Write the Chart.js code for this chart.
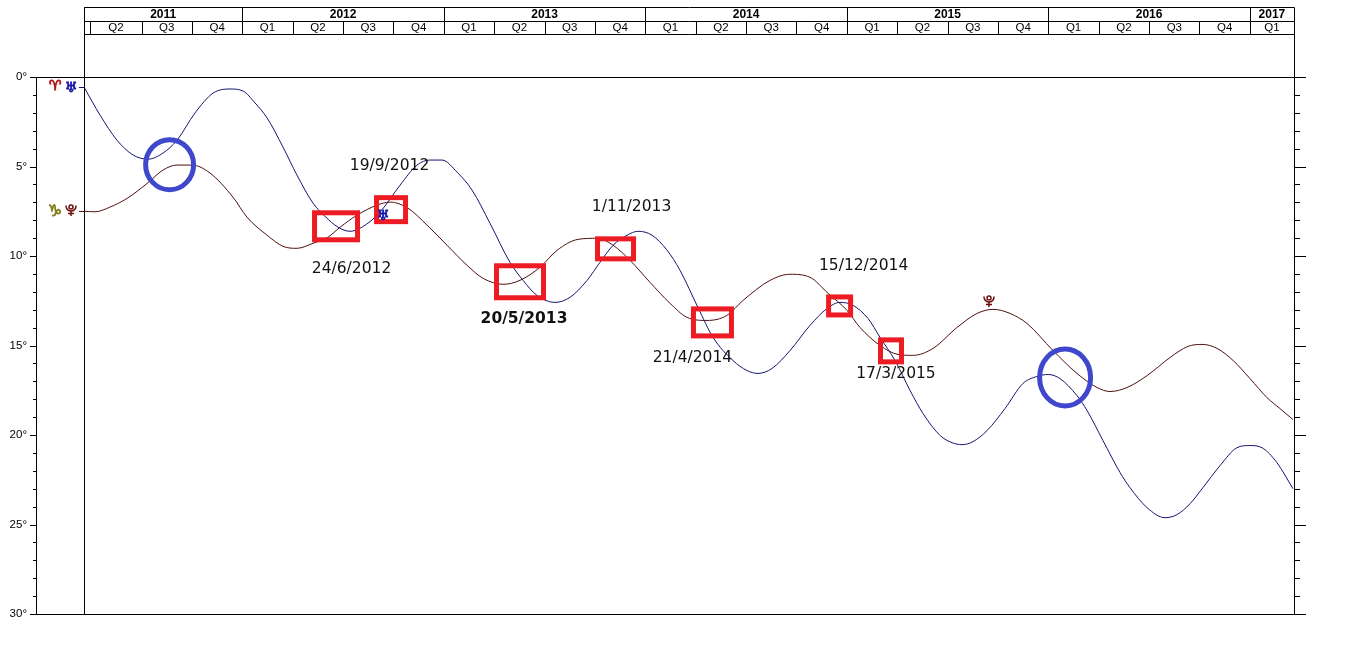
<!DOCTYPE html>
<html>
<head>
<meta charset="utf-8">
<title>Uranus Pluto</title>
<script src="https://cdn.jsdelivr.net/npm/chart.js@4"></script>
<style>
    html, body { margin: 0; padding: 0; background: #fff; overflow: hidden; }
    #wrap { position: relative; width: 1351px; height: 656px; }
</style>
</head>
<body>
<div id="wrap"><canvas id="ephemeris"></canvas></div>
<script>
// Series: date as decimal year, position in degrees
const uranusYears = [2011.214,2011.294,2011.378,2011.458,2011.532,2011.606,2011.676,2011.765,2011.855,2011.939,2012.003,2012.063,2012.123,2012.202,2012.271,2012.351,2012.41,2012.475,2012.534,2012.594,2012.683,2012.783,2012.867,2012.931,2012.991,2013.066,2013.14,2013.229,2013.328,2013.393,2013.462,2013.552,2013.626,2013.711,2013.775,2013.84,2013.909,2013.964,2014.033,2014.108,2014.172,2014.261,2014.336,2014.435,2014.505,2014.559,2014.629,2014.718,2014.817,2014.902,2014.966,2015.031,2015.105,2015.165,2015.239,2015.314,2015.378,2015.463,2015.522,2015.572,2015.626,2015.696,2015.785,2015.874,2015.944,2015.999,2016.058,2016.142,2016.192,2016.271,2016.356,2016.405,2016.49,2016.579,2016.638,2016.703,2016.767,2016.852,2016.936,2017,2017.06,2017.134,2017.214];
const uranusDegrees = [0.56,2.13,3.53,4.36,4.59,4.25,3.53,2.01,0.9,0.67,0.78,1.45,2.29,3.92,5.48,7.05,7.78,8.39,8.62,8.39,7.55,6.04,4.92,4.64,4.64,5.32,6.32,8.17,10.35,11.36,12.2,12.59,12.31,11.36,10.35,9.4,8.84,8.62,8.84,9.68,10.8,12.87,14.55,15.84,16.4,16.56,16.28,15.28,13.88,12.93,12.59,12.76,13.49,14.55,15.84,17.52,18.8,20.03,20.43,20.54,20.37,19.75,18.52,17.12,16.73,16.62,16.85,17.8,18.63,20.31,22.1,22.94,24.06,24.62,24.45,23.84,22.94,21.71,20.71,20.59,20.71,21.54,23];
const plutoYears = [2011.214,2011.269,2011.343,2011.428,2011.527,2011.606,2011.676,2011.75,2011.84,2011.954,2012.023,2012.123,2012.202,2012.271,2012.351,2012.425,2012.485,2012.569,2012.668,2012.733,2012.822,2012.917,2013.016,2013.115,2013.195,2013.294,2013.378,2013.477,2013.562,2013.666,2013.76,2013.84,2013.924,2014.023,2014.123,2014.207,2014.306,2014.405,2014.485,2014.619,2014.718,2014.817,2014.907,2015.001,2015.065,2015.165,2015.254,2015.329,2015.428,2015.547,2015.646,2015.726,2015.81,2015.894,2016.023,2016.142,2016.242,2016.306,2016.39,2016.49,2016.604,2016.693,2016.763,2016.837,2016.917,2017,2017.085,2017.149,2017.214];
const plutoDegrees = [7.5,7.53,7.27,6.78,5.95,5.2,4.92,4.92,5.37,6.72,7.83,8.84,9.46,9.57,9.29,8.95,8.39,7.72,7.16,6.99,7.33,8.28,9.4,10.52,11.25,11.58,11.36,10.63,9.68,9.07,9.01,9.4,10.24,11.47,12.65,13.43,13.6,13.32,12.48,11.36,11.02,11.19,12.09,13.04,13.99,15,15.5,15.55,15.16,13.99,13.21,12.98,13.21,13.77,15.28,16.56,17.35,17.57,17.35,16.68,15.67,15.05,14.94,15.16,15.84,16.84,17.91,18.52,19.14];

// Header rows
const yearLabels = ["2011","2012","2013","2014","2015","2016","2017"];
const yearStarts = [2011.214,2012,2013,2014,2015,2016,2017];
const quarterLabels = ["","Q2","Q3","Q4","Q1","Q2","Q3","Q4","Q1","Q2","Q3","Q4","Q1","Q2","Q3","Q4","Q1","Q2","Q3","Q4","Q1","Q2","Q3","Q4","Q1"];
const quarterStarts = [2011.214,2011.246,2011.5,2011.75,2012,2012.25,2012.5,2012.75,2013,2013.25,2013.5,2013.75,2014,2014.25,2014.5,2014.75,2015,2015.25,2015.5,2015.75,2016,2016.25,2016.5,2016.75,2017];
const chartEnd = 2017.219;

// Crossings and the two near misses circled in the picture
const crossingDates = ["24/6/2012","19/9/2012","20/5/2013","1/11/2013","21/4/2014","15/12/2014","17/3/2015"];
const crossingYears = [2012.465,2012.738,2013.378,2013.852,2014.333,2014.964,2015.219];
const crossingDegrees = [8.34,7.41,11.44,9.60,13.71,12.79,15.30];
const circleYears = [2011.639,2016.083];
const circleDegrees = [4.90,16.79];

// Drawing sizes, pixels: box half width, half height, date label offset
const boxSizes = [[21.5,13.5,15.5,43],[14.5,12,-1.5,-43.5],[23.5,16,4,37.5],[18,10,16,-41.5],[19,13.5,-20,36],[11,9,24,-39.5],[10.5,11,5,23.5]];
const circleSizes = [[24,25],[25.5,28.5]];
const boldDate = "20/5/2013";

function points(xs, ys) {
    return xs.map((x, i) => ({ x: x, y: ys[i] }));
}

// Everything the axes cannot do themselves: header table, frame, ticks, symbols, annotations
const decorations = {
    id: 'decorations',
    afterDatasetsDraw(chart) {
        const ctx = chart.ctx;
        const x = chart.scales.x;
        const y = chart.scales.y;
        const area = chart.chartArea;
        const snap = v => Math.round(v) + 0.5;
        const startX = snap(x.getPixelForValue(yearStarts[0]));
        const endX = snap(area.right);
        const topY = snap(area.top);
        const botY = snap(area.bottom);

        function line(x1, y1, x2, y2) {
            ctx.beginPath();
            ctx.moveTo(x1, y1);
            ctx.lineTo(x2, y2);
            ctx.stroke();
        }

        // sign or planet symbol as font glyph, stroked a little to get the heavier look
        function glyph(ch, px, py, size, color) {
            ctx.font = size + 'px "DejaVu Sans"';
            ctx.fillStyle = color;
            ctx.strokeStyle = color;
            ctx.lineWidth = 0.8;
            ctx.fillText(ch, px, py);
            ctx.strokeText(ch, px, py);
        }

        // the Pluto symbol used here is the orb and cup one, not in the installed fonts
        function plutoMark(px, py) {
            ctx.strokeStyle = '#6e0f0f';
            ctx.lineWidth = 1.5;
            ctx.beginPath();
            ctx.arc(px, py - 3, 2, 0, Math.PI * 2);
            ctx.stroke();
            ctx.beginPath();
            ctx.arc(px, py - 4, 5, -0.1, Math.PI + 0.1);
            ctx.stroke();
            line(px, py + 1, px, py + 6);
            line(px - 3, py + 3.5, px + 3, py + 3.5);
        }

        ctx.save();
        ctx.strokeStyle = '#000';
        ctx.lineWidth = 1;

        // frame
        line(30, topY, 1306, topY);
        line(30, botY, 1306, botY);
        line(startX, 7.5, startX, botY);
        line(endX, 7.5, endX, botY);
        line(startX, 7.5, endX, 7.5);
        line(startX, 21.5, endX, 21.5);
        line(startX, 34.5, endX, 34.5);

        // degree ticks on both sides
        y.ticks.forEach(t => {
            const py = snap(y.getPixelForValue(t.value));
            const major = t.value % 5 === 0;
            line(major ? 30 : 33, py, area.left, py);
            line(endX, py, major ? 1306 : 1300, py);
        });

        // year row
        ctx.fillStyle = '#000';
        ctx.textAlign = 'center';
        ctx.textBaseline = 'middle';
        ctx.font = 'bold 12px "Liberation Sans"';
        yearLabels.forEach((label, i) => {
            const left = x.getPixelForValue(yearStarts[i]);
            const right = i + 1 < yearStarts.length ? x.getPixelForValue(yearStarts[i + 1]) : area.right;
            line(snap(left), 7.5, snap(left), 21.5);
            ctx.fillText(label, (left + right) / 2, 14.5);
        });

        // quarter row
        ctx.font = '11.5px "Liberation Sans"';
        quarterStarts.forEach((start, i) => {
            const left = x.getPixelForValue(start);
            const right = i + 1 < quarterStarts.length ? x.getPixelForValue(quarterStarts[i + 1]) : area.right;
            line(snap(left), 21.5, snap(left), 34.5);
            ctx.fillText(quarterLabels[i], (left + right) / 2, 28);
        });

        // stubs from the symbols to the start of each curve
        ctx.strokeStyle = '#14146e';
        line(79, snap(y.getPixelForValue(uranusDegrees[0])), startX, snap(y.getPixelForValue(uranusDegrees[0])));
        ctx.strokeStyle = '#4f0f0f';
        line(79, snap(y.getPixelForValue(plutoDegrees[0])), startX, snap(y.getPixelForValue(plutoDegrees[0])));

        // red boxes
        ctx.strokeStyle = '#ed1c24';
        ctx.lineWidth = 5;
        crossingYears.forEach((year, i) => {
            const cx = x.getPixelForValue(year);
            const cy = y.getPixelForValue(crossingDegrees[i]);
            const s = boxSizes[i];
            ctx.strokeRect(cx - s[0], cy - s[1], s[0] * 2, s[1] * 2);
        });

        // blue circles
        ctx.strokeStyle = '#3f48cc';
        circleYears.forEach((year, i) => {
            ctx.beginPath();
            ctx.ellipse(x.getPixelForValue(year), y.getPixelForValue(circleDegrees[i]), circleSizes[i][0], circleSizes[i][1], 0, 0, Math.PI * 2);
            ctx.stroke();
        });

        // date labels
        ctx.fillStyle = '#111';
        crossingDates.forEach((date, i) => {
            const s = boxSizes[i];
            ctx.font = (date === boldDate ? 'bold ' : '') + '15.5px "DejaVu Sans"';
            ctx.fillText(date, x.getPixelForValue(crossingYears[i]) + s[2], y.getPixelForValue(crossingDegrees[i]) + s[3]);
        });

        // planet and sign symbols
        glyph('\u2648', 55, 86, 14, '#b01818');
        glyph('\u2645', 71, 88, 14, '#1616a8');
        glyph('\u2645', 383, 216, 14, '#1616a8');
        glyph('\u2651', 55, 212, 16, '#80801e');
        plutoMark(71, 210);
        plutoMark(989, 301);
        ctx.restore();
    }
};

new Chart(document.getElementById("ephemeris"), {
    type: 'line',
    data: {
        datasets: [
            {
                label: "Uranus",
                data: points(uranusYears, uranusDegrees),
                borderColor: "#14146e",
                borderWidth: 1,
                pointRadius: 0,
                cubicInterpolationMode: 'monotone',
                fill: false
            },
            {
                label: "Pluto",
                data: points(plutoYears, plutoDegrees),
                borderColor: "#4f0f0f",
                borderWidth: 1,
                pointRadius: 0,
                cubicInterpolationMode: 'monotone',
                fill: false
            }
        ]
    },
    options: {
        responsive: true,
        maintainAspectRatio: false,
        animation: false,
        layout: { padding: { top: 77, bottom: 42, left: 0, right: 57 } },
        plugins: {
            legend: { display: false },
            title: { display: false },
            tooltip: { enabled: false }
        },
        scales: {
            x: {
                type: 'linear',
                display: false,
                min: 2010.976,
                max: chartEnd
            },
            y: {
                reverse: true,
                min: 0,
                max: 30,
                afterFit: scale => { scale.width = 36; },
                grid: { drawOnChartArea: false, drawTicks: false },
                border: { display: true, color: '#000', width: 1 },
                ticks: {
                    stepSize: 1,
                    autoSkip: false,
                    padding: 9,
                    maxRotation: 0,
                    color: '#000',
                    font: { family: '"Liberation Sans"', size: 11.5 },
                    callback: v => (v % 5 === 0 ? v + '\u00b0' : '')
                }
            }
        }
    },
    plugins: [decorations]
});
</script>
</body>
</html>
